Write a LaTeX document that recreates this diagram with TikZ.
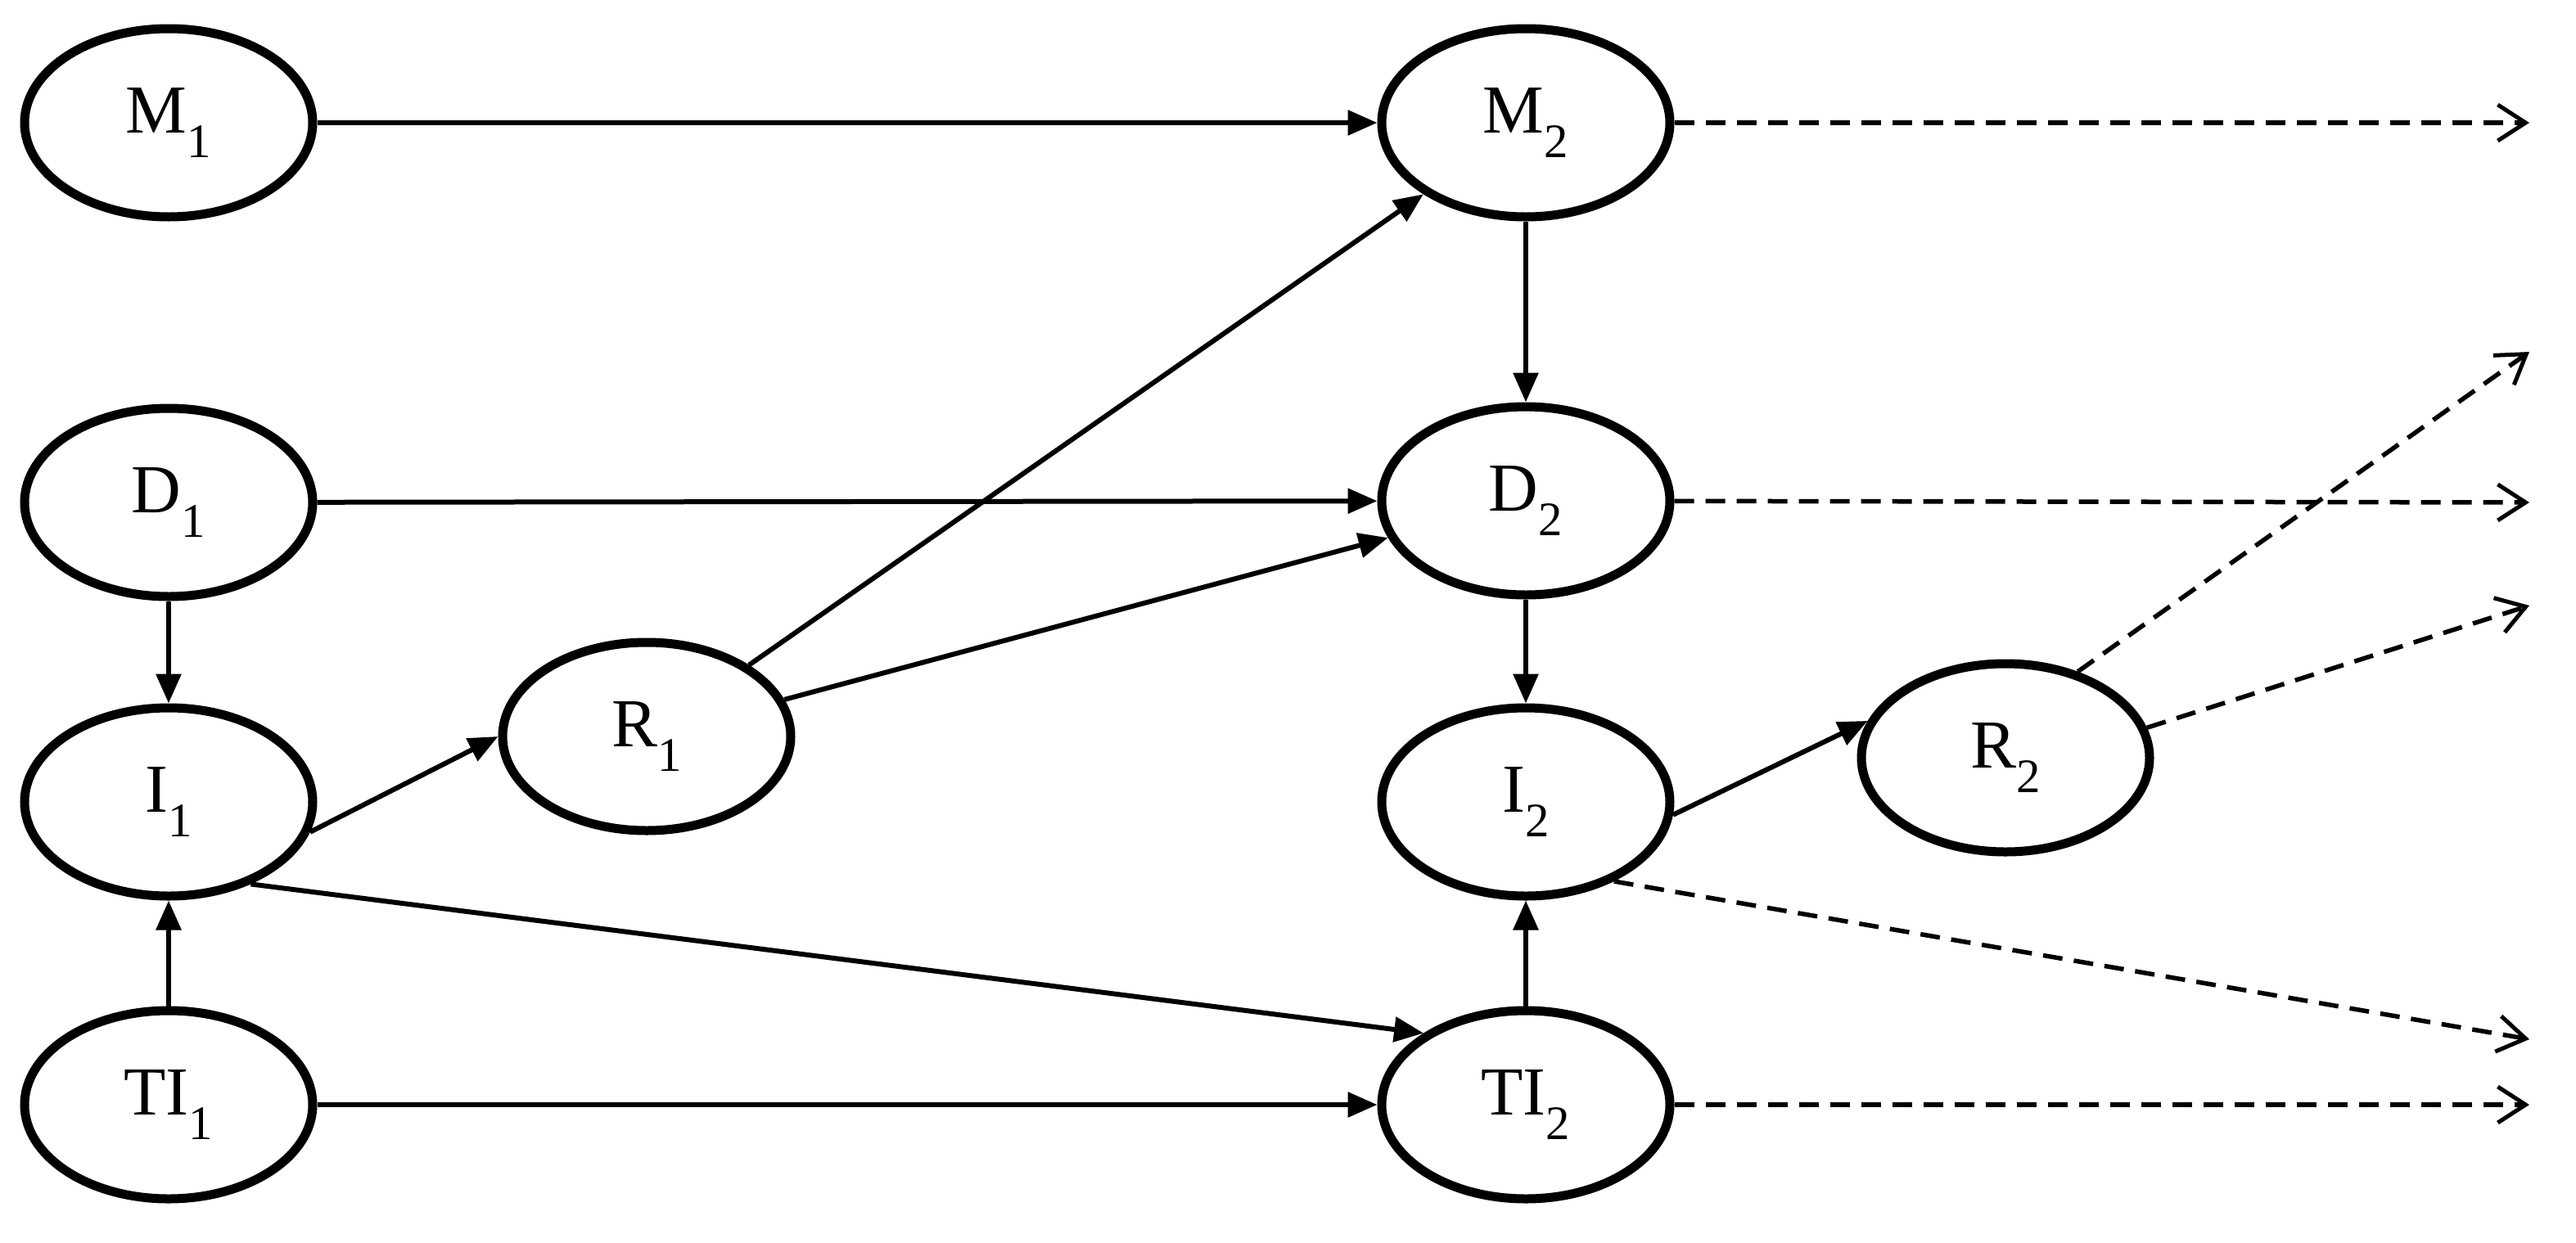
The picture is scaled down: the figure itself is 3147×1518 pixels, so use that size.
\documentclass[tikz,border=0pt]{standalone}
\usepackage{fontspec}
\setmainfont{Liberation Serif}
\usetikzlibrary{arrows.meta,shapes.geometric}
\newcommand{\sbs}[1]{\textsubscript{#1}}
\begin{document}
\begin{tikzpicture}[x=1pt,y=-1pt,
  st/.style={ellipse,draw,line width=11pt,minimum width=352pt,minimum height=230pt,inner sep=0pt,font=\fontsize{84}{94}\selectfont},
  sa/.style={line width=6pt,-{Triangle[length=36pt,width=30pt]}},
  da/.style={line width=5.5pt,dash pattern=on 24pt off 14pt,-{Straight Barb[length=34pt,width=44pt,line width=5pt]}}]
\useasboundingbox (0,0) rectangle (3147,1518);
\node[st] (M1) at (206,150) {M\sbs{1}};
\node[st] (D1) at (206,614) {D\sbs{1}};
\node[st] (I1) at (206,980) {I\sbs{1}};
\node[st] (T1) at (206,1350) {TI\sbs{1}};
\node[st] (R1) at (790,900) {R\sbs{1}};
\node[st] (M2) at (1864,150) {M\sbs{2}};
\node[st] (D2) at (1864,612) {D\sbs{2}};
\node[st] (I2) at (1864,980) {I\sbs{2}};
\node[st] (T2) at (1864,1350) {TI\sbs{2}};
\node[st] (R2) at (2450,926) {R\sbs{2}};
\coordinate (eM) at (3090,150);
\coordinate (eD) at (3090,614);
\coordinate (eT) at (3090,1350);
\coordinate (eI) at (3090,1270);
\coordinate (eR1) at (3090,430);
\coordinate (eR2) at (3090,740);
\draw[sa] (M1) -- (M2);
\draw[sa] (D1) -- (D2);
\draw[sa] (T1) -- (T2);
\draw[sa] (D1) -- (I1);
\draw[sa] (T1) -- (I1);
\draw[sa] (I1.-12) -- (R1.west);
\draw[sa] (I1.-45) -- (T2.145);
\draw[sa] (R1) -- (M2);
\draw[sa] (R1) -- (D2);
\draw[sa] (M2) -- (D2);
\draw[sa] (D2) -- (I2);
\draw[sa] (T2) -- (I2);
\draw[sa] (I2.-5) -- (R2.165);
\draw[da] (M2) -- (eM);
\draw[da] (D2) -- (eD);
\draw[da] (T2) -- (eT);
\draw[da] (I2.-42) -- (eI);
\draw[da] (R2.50) -- (eR1);
\draw[da] (R2.12) -- (eR2);
\end{tikzpicture}
\end{document}
